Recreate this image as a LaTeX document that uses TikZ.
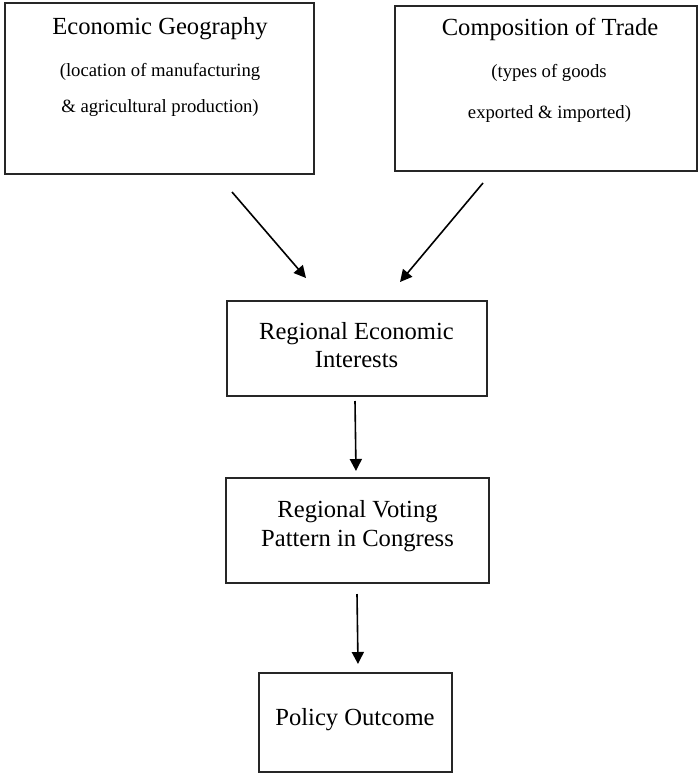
\documentclass[tikz,border=0pt]{standalone}
\usepackage{fontspec}
\setmainfont{Liberation Serif}
\usetikzlibrary{arrows.meta}
\begin{document}
\begin{tikzpicture}[x=1pt,y=-1pt,
  box/.style={draw=black!85, line width=1.2pt, inner sep=0pt},
  ttl/.style={font=\fontsize{24.6}{28}\selectfont, anchor=base, inner sep=0pt},
  subt/.style={font=\fontsize{18.7}{22}\selectfont, anchor=base, inner sep=0pt},
  arr/.style={line width=1.6pt, -{Triangle[length=12pt,width=12pt]}}]
\useasboundingbox (0,0) rectangle (698,773);
% boxes
\node[box, minimum width=309pt, minimum height=171pt] (geo) at (159.5,88.5) {};
\node[box, minimum width=302pt, minimum height=165pt] (trade) at (546,88.5) {};
\node[box, minimum width=260pt, minimum height=95pt] (interests) at (357,348.5) {};
\node[box, minimum width=263pt, minimum height=105pt] (voting) at (357.5,530.5) {};
\node[box, minimum width=193pt, minimum height=99pt] (policy) at (355.5,722.5) {};
% texts
\node[ttl] (geoT) at (160,35) {Economic Geography};
\node[subt] (geoS1) at (160,77) {(location of manufacturing};
\node[subt] (geoS2) at (160,113) {\& agricultural production)};
\node[ttl] (tradeT) at (550,36) {Composition of Trade};
\node[subt] (tradeS1) at (549,77.5) {(types of goods};
\node[subt] (tradeS2) at (549.5,118) {exported \& imported)};
\node[ttl] (intT1) at (356.5,339) {Regional Economic};
\node[ttl] (intT2) at (356.5,367) {Interests};
\node[ttl] (votT1) at (357.5,517.5) {Regional Voting};
\node[ttl] (votT2) at (357.5,546) {Pattern in Congress};
\node[ttl] (polT) at (355,725.5) {Policy Outcome};
% arrow ends
\coordinate (a1s) at (232,192);
\coordinate (a1e) at (306,278);
\coordinate (a2s) at (483,183);
\coordinate (a2e) at (400,282);
\coordinate (a3s) at (355,401);
\coordinate (a3e) at (356,471);
\coordinate (a4s) at (357,594);
\coordinate (a4e) at (358,664);
\draw[arr] (a1s) -- (a1e);
\draw[arr] (a2s) -- (a2e);
\draw[arr] (a3s) -- (a3e);
\draw[arr] (a4s) -- (a4e);
\end{tikzpicture}
\end{document}
